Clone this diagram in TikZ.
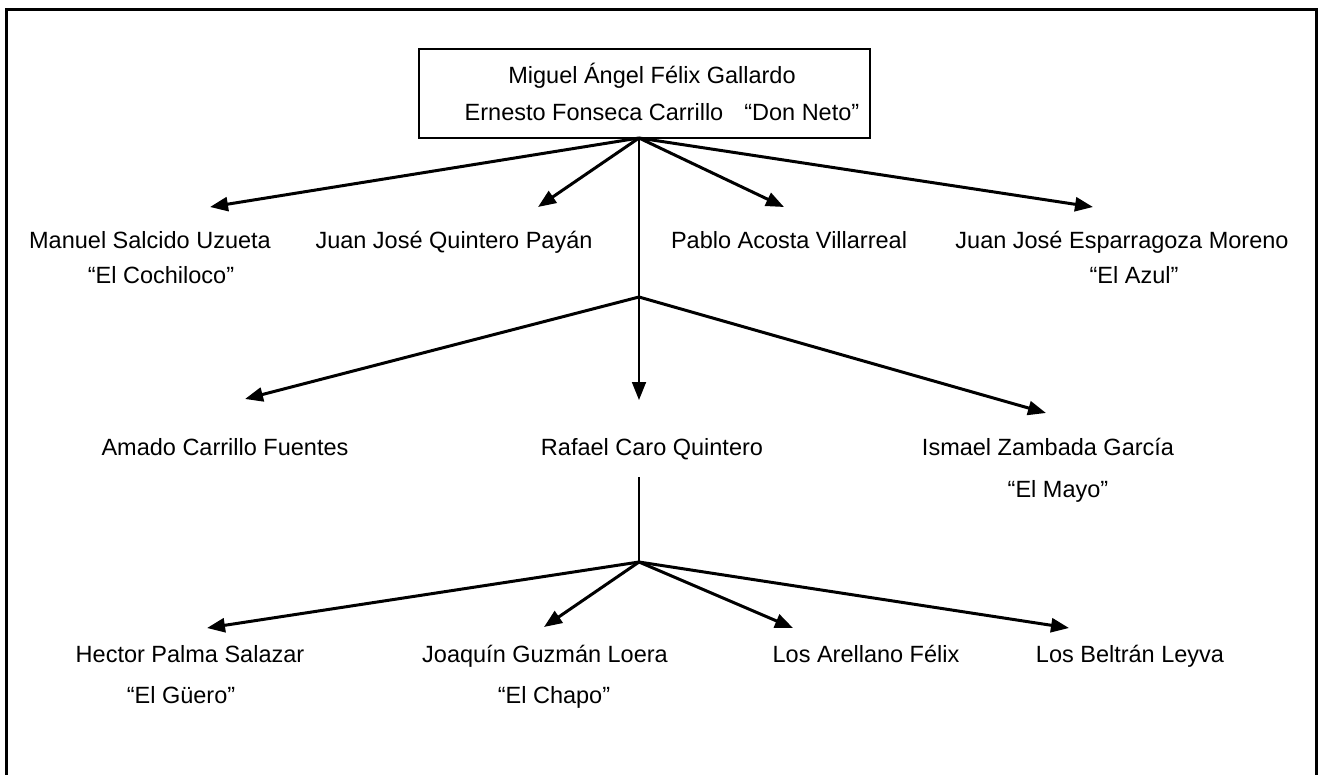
\documentclass[tikz,border=0pt]{standalone}
\usepackage{fontspec}
\setmainfont{Liberation Sans}
\usetikzlibrary{arrows.meta}
\tikzset{
  lbl/.style={anchor=base, inner sep=0pt, font=\fontsize{23.5}{28}\selectfont},
  conn/.style={line width=3pt, -{Triangle[length=18pt,width=14pt]}},
  connthin/.style={line width=1.8pt, -{Triangle[length=18pt,width=14pt]}},
  plain/.style={line width=1.6pt},
  frame/.style={line width=3pt},
  bossbox/.style={draw, line width=2pt, rectangle, minimum width=451pt, minimum height=89pt, inner sep=0pt}
}
\begin{document}
\begin{tikzpicture}[x=1pt,y=-1pt]
\useasboundingbox (0,0) rectangle (1322,774);
\draw[frame] (6.5,780) -- (6.5,9) -- (1316,9) -- (1316,780);
% top box
\node[bossbox] (boss) at (644.5,93.5) {};
\node[lbl] (miguel) at (652,83) {Miguel Ángel Félix Gallardo};
\node[lbl] (ernesto) at (662,120) {Ernesto Fonseca Carrillo\hspace{21pt}“Don Neto”};
% hubs and tips
\coordinate (top) at (639,138);
\coordinate (hubB) at (639,297);
\coordinate (hubC) at (639,562);
\coordinate (rafTop) at (639,477);
\coordinate (tManuel) at (210,207);
\coordinate (tQuintero) at (538,207);
\coordinate (tPablo) at (784,207);
\coordinate (tEsp) at (1093,207);
\coordinate (tAmado) at (245,399);
\coordinate (tRafael) at (639,400);
\coordinate (tIsmael) at (1046,413);
\coordinate (tHector) at (207,628);
\coordinate (tJoaquin) at (544,627);
\coordinate (tArellano) at (793,628);
\coordinate (tBeltran) at (1069,628);
% row 1
\node[lbl] (manuel) at (150,248) {Manuel Salcido Uzueta};
\node[lbl] (cochiloco) at (161,283) {“El Cochiloco”};
\node[lbl] (quintero) at (454,248) {Juan José Quintero Payán};
\node[lbl] (pablo) at (789,248) {Pablo Acosta Villarreal};
\node[lbl] (esp) at (1122,248) {Juan José Esparragoza Moreno};
\node[lbl] (azul) at (1134,283) {“El Azul”};
% row 2
\node[lbl] (amado) at (225,455) {Amado Carrillo Fuentes};
\node[lbl] (rafael) at (652,455) {Rafael Caro Quintero};
\node[lbl] (ismael) at (1048,455) {Ismael Zambada García};
\node[lbl] (mayo) at (1058,497) {“El Mayo”};
% row 3
\node[lbl] (hector) at (190,662) {Hector Palma Salazar};
\node[lbl] (guero) at (181,703) {“El Güero”};
\node[lbl] (joaquin) at (545,662) {Joaquín Guzmán Loera};
\node[lbl] (chapo) at (554,703) {“El Chapo”};
\node[lbl] (arellano) at (866,662) {Los Arellano Félix};
\node[lbl] (beltran) at (1130,662) {Los Beltrán Leyva};
% connectors
\draw[conn] (top) -- (tManuel);
\draw[conn] (top) -- (tQuintero);
\draw[conn] (top) -- (tPablo);
\draw[conn] (top) -- (tEsp);
\draw[connthin] (top) -- (tRafael);
\draw[conn] (hubB) -- (tAmado);
\draw[conn] (hubB) -- (tIsmael);
\draw[plain] (rafTop) -- (hubC);
\draw[conn] (hubC) -- (tHector);
\draw[conn] (hubC) -- (tJoaquin);
\draw[conn] (hubC) -- (tArellano);
\draw[conn] (hubC) -- (tBeltran);
\end{tikzpicture}
\end{document}
